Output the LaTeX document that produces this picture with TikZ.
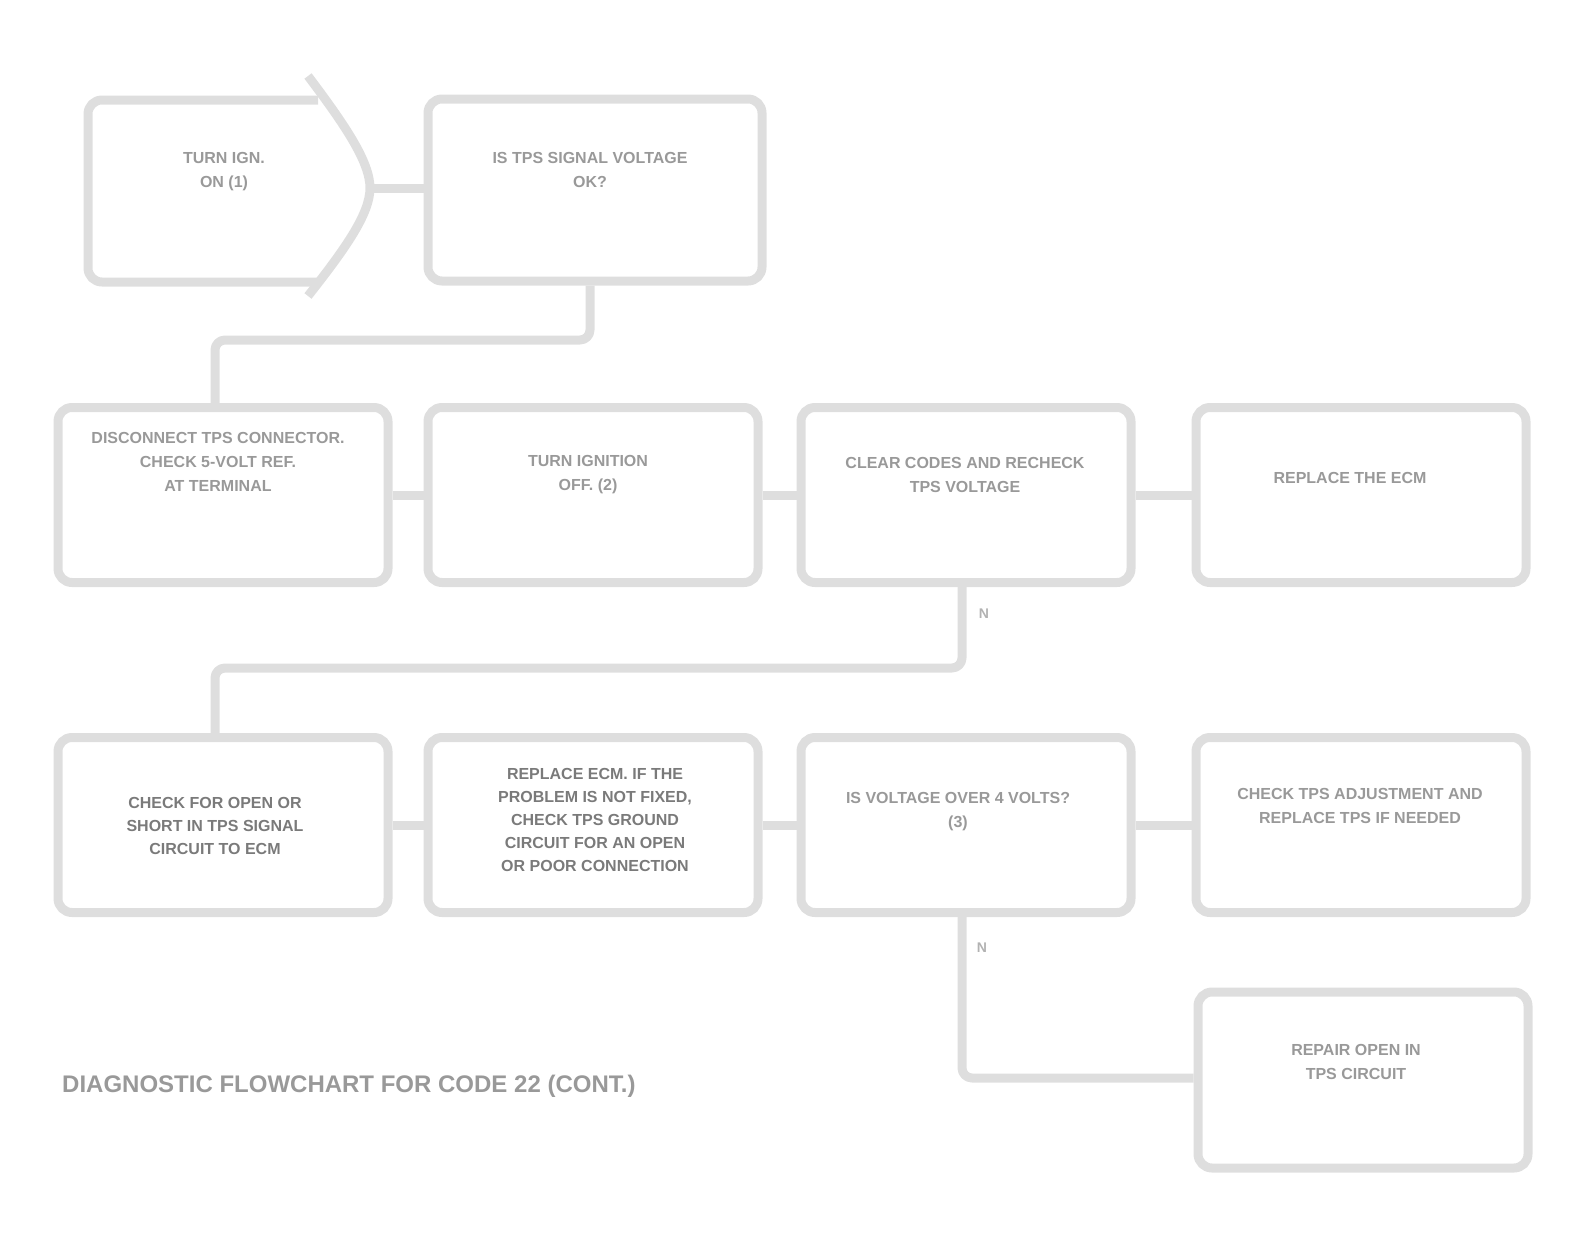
\documentclass[tikz,border=0pt]{standalone}
\usepackage{fontspec}
\setmainfont{Liberation Sans}
\begin{document}
\begin{tikzpicture}[x=1pt,y=-1pt,
  line/.style={draw=black!13,line width=9pt,line join=round},
  box/.style={draw=black!13,line width=9pt,rounded corners=14pt,minimum width=330pt,minimum height=175pt,inner sep=0pt},
  txt/.style={text=black!40,font=\bfseries\fontsize{16}{24}\selectfont,align=center,inner sep=0pt},
  dtxt/.style={text=black!52,font=\bfseries\fontsize{16}{23}\selectfont,align=center,inner sep=0pt},
  lbl/.style={text=black!30,font=\bfseries\fontsize{14}{16}\selectfont,inner sep=0pt}]
\useasboundingbox (0,0) rectangle (1576,1250);
% entry shape (box with rounded right bulge)
\coordinate (aTop) at (308,76);
\coordinate (aTip) at (370,188);
\coordinate (aBot) at (308,296);
\draw[line] (318,100) -- (102,100) to[out=180,in=90] (88,114) -- (88,268) to[out=-90,in=180] (102,282) -- (318,282);
\draw[line] (aTop) .. controls (345,125) and (370,162) .. (aTip) .. controls (370,214) and (345,249) .. (aBot);
\node[txt] (tA) at (224,172) {TURN IGN.\\ ON (1)};
% row 1
\node[box,minimum width=334pt,minimum height=182pt] (b1) at (595,190) {};
\node[txt] (tB) at (590,170) {IS TPS SIGNAL VOLTAGE\\ OK?};
\draw[line] (aTip) -- (aTip -| b1.west);
% row 2
\node[box] (r2a) at (223,495) {};
\node[box] (r2b) at (593,495) {};
\node[box] (r2c) at (966,495) {};
\node[box] (r2d) at (1361,495) {};
\node[txt] (t2a) at (218,462) {DISCONNECT TPS CONNECTOR.\\ CHECK 5-VOLT REF.\\ AT TERMINAL};
\node[txt] (t2b) at (588,475) {TURN IGNITION\\ OFF. (2)};
\node[txt] (t2c) at (965,475) {CLEAR CODES AND RECHECK\\ TPS VOLTAGE};
\node[txt] (t2d) at (1350,478) {REPLACE THE ECM};
\draw[line] (r2a) -- (r2b);
\draw[line] (r2b) -- (r2c);
\draw[line] (r2c) -- (r2d);
% row 3
\node[box] (r3a) at (223,825) {};
\node[box] (r3b) at (593,825) {};
\node[box] (r3c) at (966,825) {};
\node[box] (r3d) at (1361,825) {};
\node[dtxt] (t3a) at (215,826) {CHECK FOR OPEN OR\\ SHORT IN TPS SIGNAL\\ CIRCUIT TO ECM};
\node[dtxt] (t3b) at (595,820) {REPLACE ECM. IF THE\\ PROBLEM IS NOT FIXED,\\ CHECK TPS GROUND\\ CIRCUIT FOR AN OPEN\\ OR POOR CONNECTION};
\node[txt] (t3c) at (958,812) {IS VOLTAGE OVER 4 VOLTS?\\ (3)};
\node[txt] (t3d) at (1360,806) {CHECK TPS ADJUSTMENT AND\\ REPLACE TPS IF NEEDED};
\draw[line] (r3a) -- (r3b);
\draw[line] (r3b) -- (r3c);
\draw[line] (r3c) -- (r3d);
% connectors between rows
\coordinate (k1) at (590,340);
\coordinate (k2) at (215,340);
\draw[line,rounded corners=10pt] (b1.south -| k1) -- (k1) -- (k2) -- (r2a.north -| k2);
\coordinate (k3) at (962,668);
\coordinate (k4) at (215,668);
\draw[line,rounded corners=10pt] (r2c.south -| k3) -- (k3) -- (k4) -- (r3a.north -| k4);
\node[lbl] (l1) at (984,614) {N};
% box 5
\node[box,minimum height=176pt] (b5) at (1363,1080) {};
\node[txt] (t5) at (1356,1062) {REPAIR OPEN IN\\ TPS CIRCUIT};
\coordinate (k5) at (962,1078);
\draw[line,rounded corners=10pt] (r3c.south -| k5) -- (k5) -- (b5.west |- k5);
\node[lbl] (l2) at (982,948) {N};
% caption
\node[text=black!40,font=\bfseries\fontsize{24}{26}\selectfont,anchor=west,inner sep=0pt] (cap) at (62,1086) {DIAGNOSTIC FLOWCHART FOR CODE 22 (CONT.)};
\end{tikzpicture}
\end{document}
